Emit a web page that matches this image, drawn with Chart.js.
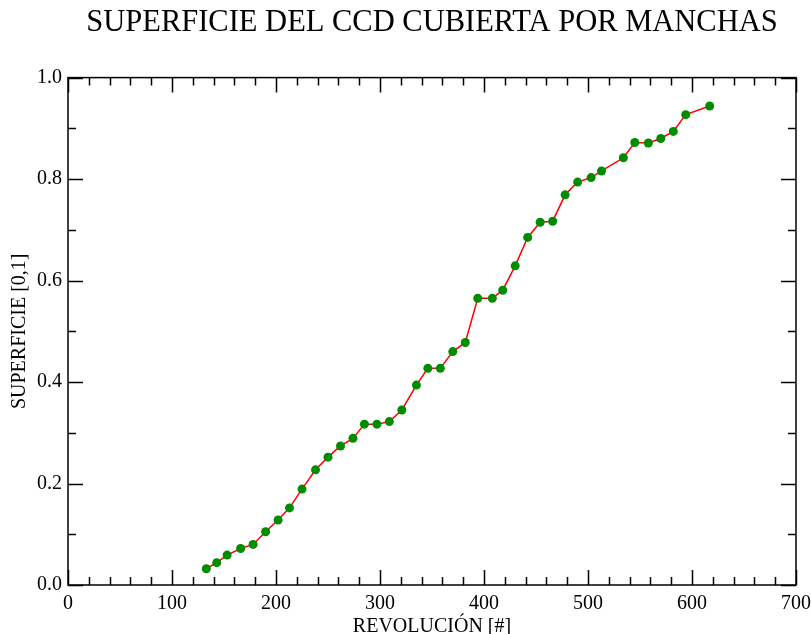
<!DOCTYPE html>
<html lang="es">
<head>
  <meta charset="UTF-8" />
  <title>Superficie del CCD cubierta por manchas</title>
  <script src="https://cdn.jsdelivr.net/npm/chart.js"></script>
  <style>
    html, body {
      margin: 0;
      padding: 0;
      background: #fff;
    }
    canvas {
      display: block;
    }
  </style>
</head>
<body>
  <canvas id="spotChart" width="811" height="634"></canvas>

  <script>
    // Revolution number of each observation and the fraction of the CCD covered
    const revolucion = [
      133, 143, 153, 166, 178, 190, 202, 213, 225, 238,
      250, 262, 274, 285, 297, 309, 321, 335, 346, 358,
      370, 382, 394, 408, 418, 430, 442, 454, 466, 478,
      490, 503, 513, 534, 545, 558, 570, 582, 594, 617
    ];
    const superficie = [
      0.032, 0.044, 0.059, 0.072, 0.080, 0.105, 0.128, 0.152, 0.189, 0.227,
      0.252, 0.274, 0.289, 0.317, 0.317, 0.322, 0.345, 0.394, 0.427, 0.427,
      0.460, 0.478, 0.565, 0.565, 0.581, 0.629, 0.685, 0.715, 0.717, 0.769,
      0.794, 0.803, 0.816, 0.842, 0.872, 0.871, 0.880, 0.894, 0.927, 0.944
    ];

    const xRange = [0, 700];
    const yRange = [0, 1];
    const xMajorStep = 100, xMinorStep = 20;
    const yMajorStep = 0.2, yMinorStep = 0.1;

    const serif = "'Liberation Serif', 'Times New Roman', serif";

    // Box around the plot with inward tick marks on all four sides
    const frameTicks = {
      id: 'frameTicks',
      afterDraw(chart) {
        const { ctx, chartArea: a, scales: { x, y } } = chart;
        const major = 15, minor = 8;
        ctx.save();
        ctx.strokeStyle = '#000';
        ctx.lineWidth = 1.5;
        ctx.strokeRect(a.left, a.top, a.right - a.left, a.bottom - a.top);
        ctx.beginPath();
        for (let v = xRange[0]; v <= xRange[1] + 1e-9; v += xMinorStep) {
          const px = Math.round(x.getPixelForValue(v)) + 0.5;
          const len = Math.abs(v % xMajorStep) < 1e-9 ? major : minor;
          ctx.moveTo(px, a.bottom); ctx.lineTo(px, a.bottom - len);
          ctx.moveTo(px, a.top); ctx.lineTo(px, a.top + len);
        }
        for (let i = 0; i <= Math.round((yRange[1] - yRange[0]) / yMinorStep); i++) {
          const v = yRange[0] + i * yMinorStep;
          const py = Math.round(y.getPixelForValue(v)) + 0.5;
          const len = i % 2 === 0 ? major : minor;
          ctx.moveTo(a.left, py); ctx.lineTo(a.left + len, py);
          ctx.moveTo(a.right, py); ctx.lineTo(a.right - len, py);
        }
        ctx.stroke();
        ctx.restore();
      }
    };

    const ctx = document.getElementById('spotChart').getContext('2d');
    new Chart(ctx, {
      type: 'line',
      data: {
        datasets: [{
          data: revolucion.map((r, i) => ({ x: r, y: superficie[i] })),
          borderColor: '#ff0000',
          borderWidth: 1.5,
          pointBackgroundColor: '#008c00',
          pointBorderColor: '#008c00',
          pointBorderWidth: 0,
          pointRadius: 4.5,
          tension: 0,
          clip: false
        }]
      },
      options: {
        responsive: false,
        animation: false,
        layout: { padding: { top: 0, right: 0, bottom: 0, left: 0 } },
        plugins: {
          legend: { display: false },
          tooltip: { enabled: false },
          title: {
            display: true,
            text: 'SUPERFICIE DEL CCD CUBIERTA POR MANCHAS',
            fullSize: false,
            color: '#000',
            font: { family: serif, size: 30.5, weight: 'normal', lineHeight: 1.2 },
            padding: { top: 5, bottom: 36 }
          }
        },
        scales: {
          x: {
            type: 'linear',
            min: xRange[0],
            max: xRange[1],
            grid: { display: false, drawTicks: false },
            border: { display: false },
            ticks: {
              stepSize: xMajorStep,
              color: '#000',
              padding: 7,
              maxRotation: 0,
              font: { family: serif, size: 20 }
            },
            title: {
              display: true,
              text: 'REVOLUCIÓN [#]',
              color: '#000',
              font: { family: serif, size: 20, lineHeight: 1.2 },
              padding: { top: 0, bottom: -5 }
            },
            afterFit(scale) {
              scale.height = 49;
              scale.paddingLeft = 0;
              scale.paddingRight = 15;
            }
          },
          y: {
            min: yRange[0],
            max: yRange[1],
            grid: { display: false, drawTicks: false },
            border: { display: false },
            ticks: {
              stepSize: yMajorStep,
              color: '#000',
              padding: 6,
              font: { family: serif, size: 20 },
              callback: v => v.toFixed(1)
            },
            title: {
              display: true,
              text: 'SUPERFICIE [0,1]',
              color: '#000',
              font: { family: serif, size: 20, lineHeight: 1.2 },
              padding: { top: 8, bottom: 0 }
            },
            afterFit(scale) { scale.width = 68; }
          }
        }
      },
      plugins: [frameTicks]
    });
  </script>
</body>
</html>
